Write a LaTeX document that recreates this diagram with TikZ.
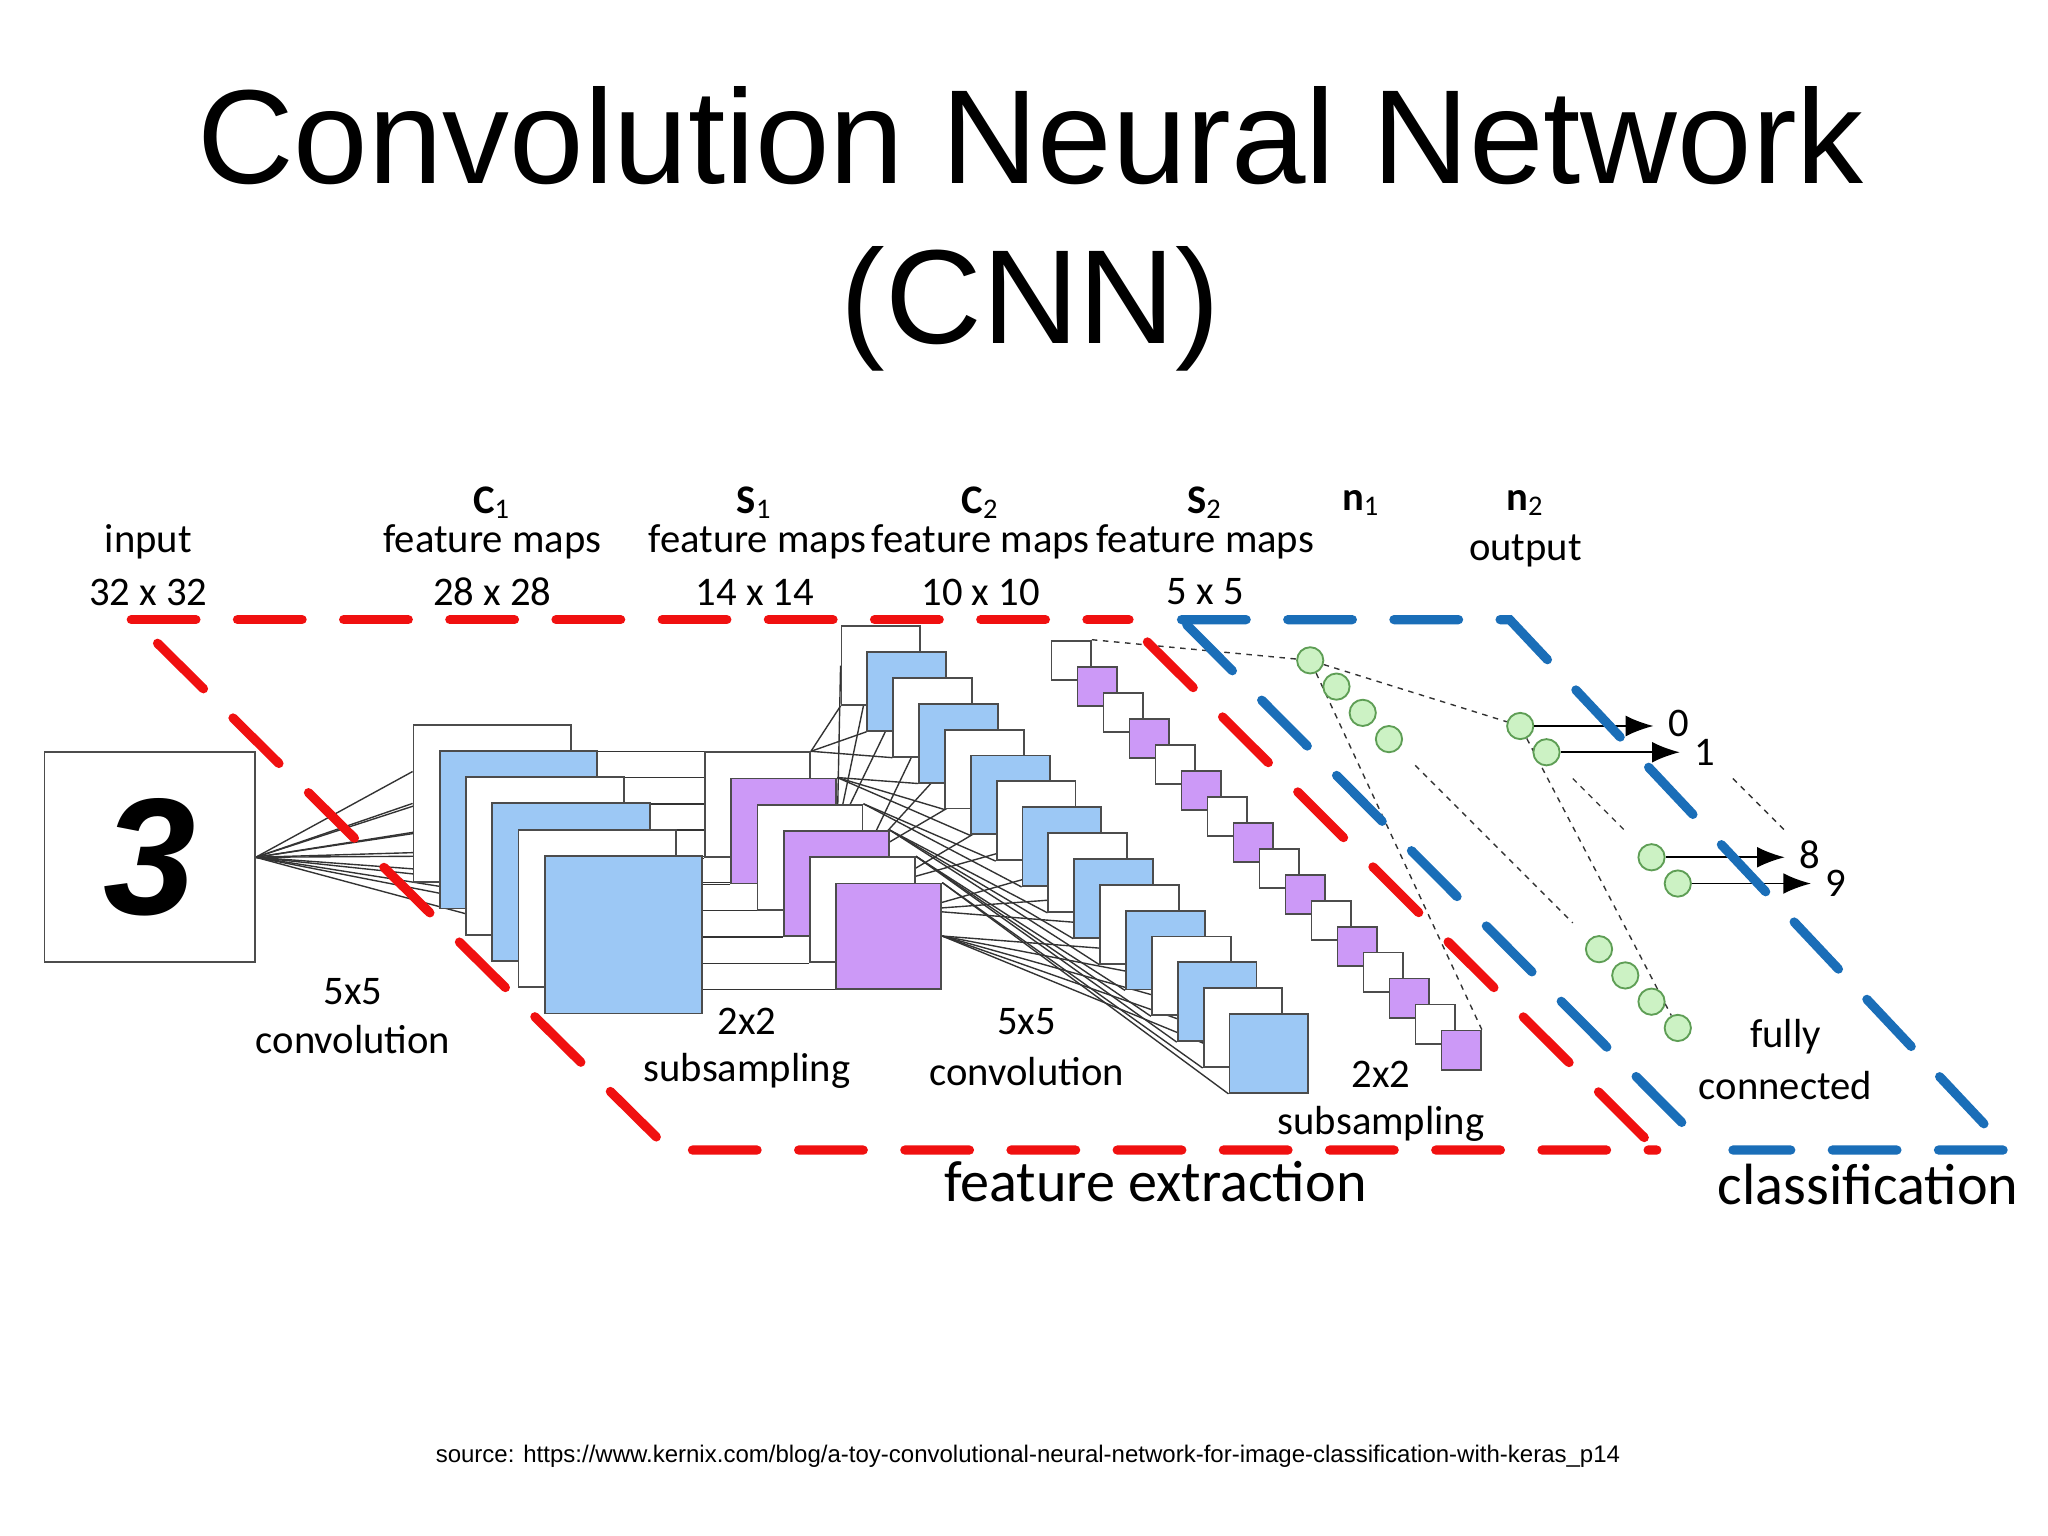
\documentclass[tikz,border=0pt]{standalone}
\usepackage{fontspec}
\setmainfont{Carlito}
\newfontfamily\arialf{Liberation Sans}
\usetikzlibrary{calc,arrows.meta}
\pgfdeclarelayer{bg}
\pgfdeclarelayer{paper}
\pgfsetlayers{paper,bg,main}
\definecolor{mapblue}{HTML}{9CC8F5}
\definecolor{mappurple}{HTML}{CC99F7}
\definecolor{cellgreen}{HTML}{CCF2C4}
\definecolor{cellgreenline}{HTML}{5E9E55}
\definecolor{framered}{HTML}{F01010}
\definecolor{frameblue}{HTML}{1A6EB8}
\tikzset{
  map/.style={draw=black!70, line width=0.4pt, inner sep=0pt, minimum size=#1, fill=white},
  lbl/.style={font=\fontsize{8.8}{10}\selectfont, inner sep=0pt},
  big/.style={font=\fontsize{12.6}{14}\selectfont, inner sep=0pt},
  cell/.style={circle, draw=cellgreenline, fill=cellgreen, line width=0.4pt, minimum size=0.2cm, inner sep=0pt},
  wire/.style={black!80, line width=0.3pt},
  dots/.style={black!80, line width=0.3pt, dash pattern=on 1.2pt off 1.2pt},
  redframe/.style={framered, line width=2pt, dash pattern=on 14pt off 9pt, line cap=round},
  blueframe/.style={frameblue, line width=2pt, dash pattern=on 14pt off 9pt, line cap=round},
  outarrow/.style={black, line width=0.4pt, -{Latex[length=6pt,width=4.5pt]}}
}
\begin{document}
\begin{tikzpicture}[x=0.01cm, y=-0.01cm]
\begin{pgfonlayer}{paper}
\fill[white] (0,0) rectangle (1560,1170);
\end{pgfonlayer}
\useasboundingbox (0,0) rectangle (1560,1170);

% title
\node[font=\arialf\fontsize{29}{34}\selectfont, anchor=base, inner sep=0pt] (title1) at (785,140) {Convolution Neural Network};
\node[font=\arialf\fontsize{29}{34}\selectfont, anchor=base, inner sep=0pt] (title2) at (785,262) {(CNN)};

% input
\node[map=1.6cm, font=\arialf\bfseries\itshape\fontsize{36}{40}\selectfont] (input) at (114,653) {3};

% C1 maps
\foreach \i in {0,...,5} {
  \ifodd\i \def\fc{mapblue}\else\def\fc{white}\fi
  \node[map=1.2cm, fill=\fc] (c1-\i) at (375+20*\i, 612+20*\i) {};
}
% S1 maps
\foreach \i in {0,...,5} {
  \ifodd\i \def\fc{mappurple}\else\def\fc{white}\fi
  \node[map=0.8cm, fill=\fc] (s1-\i) at (577+20*\i, 613+20*\i) {};
}
% C2 maps
\foreach \i in {0,...,15} {
  \ifodd\i \def\fc{mapblue}\else\def\fc{white}\fi
  \node[map=0.6cm, fill=\fc] (c2-\i) at (671+19.7*\i, 507+19.7*\i) {};
}
% S2 maps
\foreach \i in {0,...,15} {
  \ifodd\i \def\fc{mappurple}\else\def\fc{white}\fi
  \node[map=0.3cm, fill=\fc] (s2-\i) at (816+19.8*\i, 503+19.8*\i) {};
}

% neurons
\foreach \i/\x/\y in {1/998/503,2/1018/523,3/1038/543,4/1058/563,5/1218/723,6/1238/743,7/1258/763,8/1278/783}
  \node[cell] (n1-\i) at (\x,\y) {};
\foreach \i/\x/\y in {1/1158/553,2/1178/573,3/1258/653,4/1278/673}
  \node[cell] (n2-\i) at (\x,\y) {};

% outputs
\node[lbl, anchor=west] (o0) at (1270,551) {0};
\node[lbl, anchor=west] (o1) at (1290,573) {1};
\node[lbl, anchor=west] (o8) at (1370,651) {8};
\node[lbl, anchor=west] (o9) at (1390,673) {9};
\draw[outarrow] (n2-1) -- ([xshift=-3pt]o0.west |- n2-1);
\draw[outarrow] (n2-2) -- ([xshift=-3pt]o1.west |- n2-2);
\draw[outarrow] (n2-3) -- ([xshift=-3pt]o8.west |- n2-3);
\draw[outarrow] (n2-4) -- ([xshift=-3pt]o9.west |- n2-4);

\begin{pgfonlayer}{bg}
  % input to C1
  \foreach \i in {0,...,5} {
    \draw[wire] (input.east) -- (c1-\i.west);
    \draw[wire] (input.east) -- ($(c1-\i.north west)!0.3!(c1-\i.south west)$);
  }
  % C1 to S1
  \foreach \i in {0,...,5} {
    \draw[wire] (s1-\i.north west) -- (s1-\i.north west -| c1-\i.east);
    \draw[wire] (s1-\i.south west) -- (s1-\i.south west -| c1-\i.east);
  }
  % S1 to C2
  \foreach \j in {0,...,15} {
    \pgfmathtruncatemacro{\k}{int(\j*6/16)}
    \pgfmathtruncatemacro{\m}{min(5,\k+1)}
    \draw[wire] (s1-\k.north east) -- (c2-\j.south west);
    \draw[wire] (s1-\m.east) -- ($(c2-\j.north west)!0.5!(c2-\j.south west)$);
  }
  % C2 to S2
  \foreach \i in {0,...,15} {
    \draw[wire] ($(s2-\i.north west)+(0,3)$) -- ($(s2-\i.north west)+(0,3)$ -| c2-\i.east);
    \draw[wire] ($(s2-\i.south west)+(0,-3)$) -- ($(s2-\i.south west)+(0,-3)$ -| c2-\i.east);
  }
  % fully connected (dotted)
  \draw[dots] (s2-0.north east) -- (n1-1);
  \draw[dots] (n1-1) -- (n2-1);
  \draw[dots] (n1-1) -- (s2-15.north east);
  \draw[dots] (n2-1) -- (n1-8);
  \draw[dots] (1078,583) -- (1198,703);
  \draw[dots] (1198,593) -- (1238,633);
  \draw[dots] (1320,593) -- (1360,633);
\end{pgfonlayer}

% frames
\draw[redframe] (100,472) -- (860,472);
\draw[redframe] (120,490) -- (510,876) -- (1262,876);
\draw[redframe] (874,489) -- (1262,876);
\draw[blueframe] (900,472) -- (1150,472) -- (1530,876) -- (1320,876);
\draw[blueframe] (904,476) -- (1288,862);

% labels
\node[lbl] (l-in1) at (113,413) {input};
\node[lbl] (l-in2) at (113,451) {32 x 32};
\node[lbl] (l-c1a) at (375,383) {\textbf{C}\textsubscript{1}};
\node[lbl] (l-c1b) at (375,413) {feature maps};
\node[lbl] (l-c1c) at (375,451) {28 x 28};
\node[lbl] (l-s1a) at (575,383) {\textbf{S}\textsubscript{1}};
\node[lbl] (l-s1b) at (577,413) {feature maps};
\node[lbl] (l-s1c) at (575,451) {14 x 14};
\node[lbl] (l-c2a) at (747,383) {\textbf{C}\textsubscript{2}};
\node[lbl] (l-c2b) at (747,413) {feature maps};
\node[lbl] (l-c2c) at (747,451) {10 x 10};
\node[lbl] (l-s2a) at (918,383) {\textbf{S}\textsubscript{2}};
\node[lbl] (l-s2b) at (918,413) {feature maps};
\node[lbl] (l-s2c) at (918,451) {5 x 5};
\node[lbl] (l-n1) at (1037,383) {\textbf{n}\textsubscript{1}};
\node[lbl] (l-n2a) at (1162,383) {\textbf{n}\textsubscript{2}};
\node[lbl] (l-n2b) at (1162,420) {output};
\node[lbl] (l-op1a) at (269,755) {5x5};
\node[lbl] (l-op1b) at (269,792) {convolution};
\node[lbl] (l-op2a) at (569,778) {2x2};
\node[lbl] (l-op2b) at (569,816) {subsampling};
\node[lbl] (l-op3a) at (782,778) {5x5};
\node[lbl] (l-op3b) at (782,816) {convolution};
\node[lbl] (l-op4a) at (1052,818) {2x2};
\node[lbl] (l-op4b) at (1052,856) {subsampling};
\node[lbl] (l-fc1) at (1360,790) {fully};
\node[lbl] (l-fc2) at (1360,827) {connected};
\node[big] (l-fe) at (880,900) {feature extraction};
\node[big] (l-cl) at (1423,902) {classification};
\node[font=\arialf\fontsize{5.2}{7}\selectfont, inner sep=0pt] (src) at (783,1109) {source: https://www.kernix.com/blog/a-toy-convolutional-neural-network-for-image-classification-with-keras\_p14};
\end{tikzpicture}
\end{document}
